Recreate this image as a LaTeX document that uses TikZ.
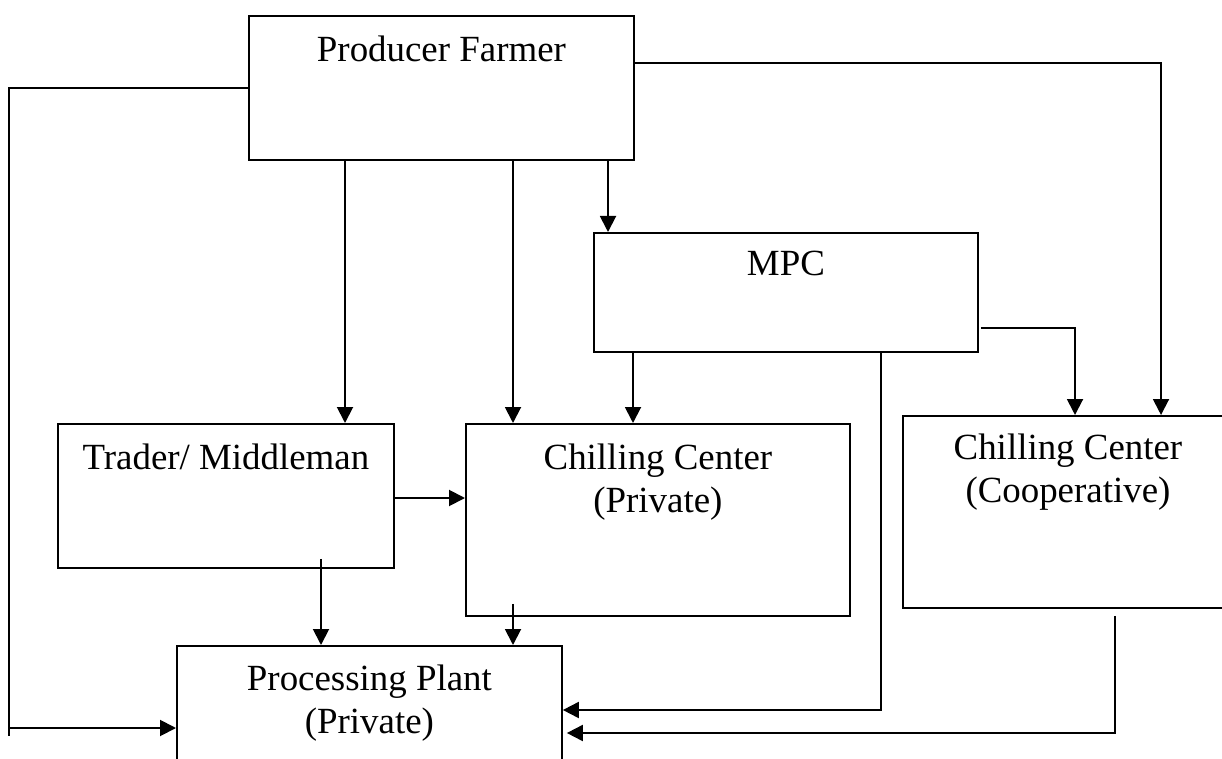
\documentclass[tikz,border=0pt]{standalone}
\usepackage{fontspec}
\setmainfont{Liberation Serif}
\usepackage{tikz}
\usetikzlibrary{arrows.meta,positioning}

\begin{document}
\begin{tikzpicture}[x=0.02cm,y=-0.02cm,
	box/.style={draw,line width=1.1pt,inner sep=0pt,anchor=north west},
	lbl/.style={inner sep=0pt,align=center,font=\fontsize{21}{24}\selectfont},
	conn/.style={line width=1.1pt,-{Triangle[length=0.32cm,width=0.32cm]}},
	wire/.style={line width=1.1pt}]
	\useasboundingbox (0,0) rectangle (1222,759);
	\node[box,minimum width=7.7cm,minimum height=2.88cm] (farmer) at (248,15) {};
	\node[box,minimum width=7.68cm,minimum height=2.38cm] (mpc) at (593,232) {};
	\node[box,minimum width=6.72cm,minimum height=2.88cm] (trader) at (57,423) {};
	\node[box,minimum width=7.68cm,minimum height=3.84cm] (ccp) at (465,423) {};
	\node[box,minimum width=6.6cm,minimum height=3.84cm] (ccc) at (902,415) {};
	\node[box,minimum width=7.7cm,minimum height=3cm] (plant) at (176,645) {};
	\node[lbl,below=0.42cm of farmer.north] (farmertxt) {Producer Farmer};
	\node[lbl,below=0.38cm of mpc.north] (mpctxt) {MPC};
	\node[lbl,below=0.42cm of trader.north] (tradertxt) {Trader/ Middleman};
	\node[lbl,below=0.42cm of ccp.north] (ccptxt) {Chilling Center\\(Private)};
	\node[lbl,below=0.38cm of ccc.north] (ccctxt) {Chilling Center\\(Cooperative)};
	\node[lbl,below=0.4cm of plant.north] (planttxt) {Processing Plant\\(Private)};
	\coordinate (xtrader) at (345,0);
	\coordinate (xccp) at (513,0);
	\coordinate (xmpc) at (608,0);
	\coordinate (xmpcccp) at (633,0);
	\coordinate (xplant) at (321,0);
	\coordinate (topright) at (1161,63);
	\coordinate (mpcturn) at (1075,328);
	\coordinate (mpcdown) at (881,710);
	\coordinate (cccdown) at (1115,733);
	\coordinate (tc) at (393,498);
	\coordinate (lft) at (9,736);
	\coordinate (lftarr) at (9,728);
	\draw[conn] (xtrader |- farmer.south) -- (xtrader |- trader.north);
	\draw[conn] (xccp |- farmer.south) -- (xccp |- ccp.north);
	\draw[conn] (xmpc |- farmer.south) -- (xmpc |- mpc.north);
	\draw[conn] (topright -| farmer.east) -- (topright) -- (topright |- ccc.north);
	\draw[conn] (xmpcccp |- mpc.south) -- (xmpcccp |- ccp.north);
	\draw[conn] ([xshift=0.04cm]mpcturn -| mpc.east) -- (mpcturn) -- (mpcturn |- ccc.north);
	\draw[conn] (mpcdown |- mpc.south) -- (mpcdown) -- (mpcdown -| plant.east);
	\draw[conn] ([yshift=-0.14cm]cccdown |- ccc.south) -- (cccdown) -- ([xshift=0.08cm]cccdown -| plant.east);
	\draw[conn] (tc) -- (tc -| ccp.west);
	\draw[conn] ([yshift=0.2cm]xplant |- trader.south) -- (xplant |- plant.north);
	\draw[conn] ([yshift=0.26cm]xccp |- ccp.south) -- (xccp |- plant.north);
	\draw[wire] (farmer.west) -| (lft);
	\draw[conn] (lftarr) -- (lftarr -| plant.west);
\end{tikzpicture}
\end{document}
